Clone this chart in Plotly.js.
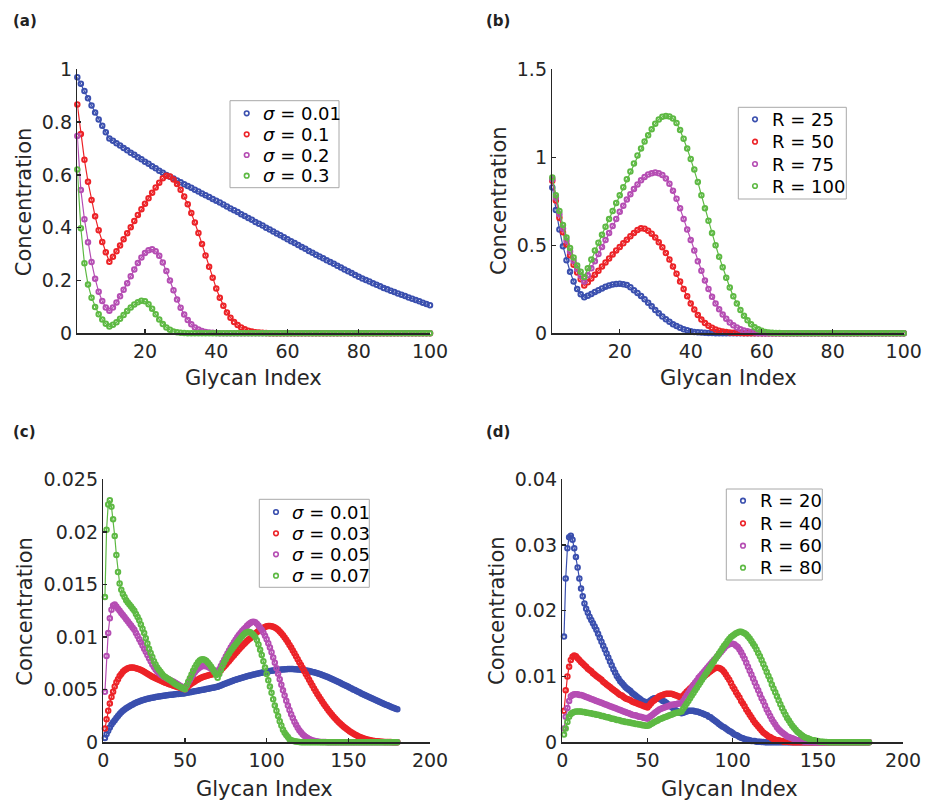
<!DOCTYPE html>
<html><head><meta charset="utf-8">
<script src="https://cdn.plot.ly/plotly-3.0.1.min.js"></script>
<style>html,body{margin:0;padding:0;background:#fff}#chart{width:926px;height:802px}</style>
</head><body><div id="chart"></div>
<script>
// ---------- Panel (a): sigma sweep, glycan index 1..100 ----------
const aLabels = ['σ = 0.01', 'σ = 0.1', 'σ = 0.2', 'σ = 0.3'];
const aSigma001 = [
0.970,0.945,0.918,0.890,0.863,0.836,0.810,0.786,0.762,0.738,
0.729,0.720,0.711,0.702,0.693,0.684,0.676,0.667,0.659,0.650,
0.642,0.633,0.625,0.616,0.608,0.600,0.593,0.586,0.579,0.572,
0.565,0.558,0.551,0.544,0.537,0.530,0.523,0.516,0.509,0.502,
0.495,0.488,0.480,0.473,0.466,0.459,0.451,0.444,0.437,0.430,
0.422,0.415,0.408,0.400,0.393,0.386,0.378,0.371,0.364,0.356,
0.349,0.342,0.334,0.327,0.320,0.312,0.305,0.298,0.291,0.284,
0.277,0.270,0.263,0.256,0.249,0.242,0.235,0.228,0.221,0.214,
0.208,0.202,0.196,0.190,0.184,0.178,0.172,0.167,0.161,0.156,
0.151,0.146,0.141,0.136,0.131,0.126,0.121,0.116,0.111,0.106];
const aSigma01 = [
0.867,0.755,0.657,0.574,0.505,0.443,0.390,0.346,0.307,0.271,
0.290,0.311,0.333,0.356,0.379,0.402,0.425,0.448,0.470,0.491,
0.512,0.532,0.552,0.570,0.587,0.597,0.594,0.583,0.566,0.544,
0.518,0.489,0.456,0.420,0.380,0.338,0.295,0.252,0.210,0.170,
0.135,0.104,0.079,0.059,0.043,0.031,0.022,0.015,0.010,0.007,
0.004,0.003,0.002,0.001,0.0005,0,0,0,0,0,
0,0,0,0,0,0,0,0,0,0,
0,0,0,0,0,0,0,0,0,0,
0,0,0,0,0,0,0,0,0,0,
0,0,0,0,0,0,0,0,0,0];
const aSigma02 = [
0.747,0.543,0.432,0.345,0.270,0.207,0.157,0.122,0.098,0.085,
0.098,0.117,0.140,0.165,0.190,0.216,0.242,0.266,0.287,0.304,
0.315,0.318,0.311,0.294,0.268,0.236,0.200,0.163,0.128,0.097,
0.071,0.050,0.034,0.022,0.014,0.009,0.005,0.003,0.002,0.001,
0.0005,0,0,0,0,0,0,0,0,0,
0,0,0,0,0,0,0,0,0,0,
0,0,0,0,0,0,0,0,0,0,
0,0,0,0,0,0,0,0,0,0,
0,0,0,0,0,0,0,0,0,0,
0,0,0,0,0,0,0,0,0,0];
const aSigma03 = [
0.620,0.398,0.265,0.185,0.135,0.100,0.072,0.052,0.036,0.026,
0.032,0.042,0.055,0.069,0.084,0.098,0.109,0.118,0.123,0.121,
0.110,0.093,0.072,0.052,0.035,0.022,0.013,0.007,0.004,0.002,
0.001,0,0,0,0,0,0,0,0,0,
0,0,0,0,0,0,0,0,0,0,
0,0,0,0,0,0,0,0,0,0,
0,0,0,0,0,0,0,0,0,0,
0,0,0,0,0,0,0,0,0,0,
0,0,0,0,0,0,0,0,0,0,
0,0,0,0,0,0,0,0,0,0];

// ---------- Panel (b): R sweep, glycan index 1..100 ----------
const bLabels = ['R = 25', 'R = 50', 'R = 75', 'R = 100'];
const bR25 = [
0.828,0.700,0.590,0.495,0.415,0.350,0.295,0.252,0.222,0.205,
0.213,0.223,0.234,0.245,0.255,0.264,0.271,0.277,0.280,0.281,
0.279,0.274,0.261,0.245,0.229,0.212,0.194,0.174,0.153,0.133,
0.114,0.096,0.080,0.065,0.052,0.041,0.031,0.023,0.017,0.012,
0.008,0.006,0.004,0.003,0.002,0.001,0.0005,0,0,0,
0,0,0,0,0,0,0,0,0,0,
0,0,0,0,0,0,0,0,0,0,
0,0,0,0,0,0,0,0,0,0,
0,0,0,0,0,0,0,0,0,0,
0,0,0,0,0,0,0,0,0,0];
const bR50 = [
0.867,0.755,0.657,0.574,0.505,0.443,0.390,0.346,0.307,0.271,
0.290,0.311,0.333,0.356,0.379,0.402,0.425,0.448,0.470,0.491,
0.512,0.532,0.552,0.570,0.587,0.597,0.594,0.583,0.566,0.544,
0.518,0.489,0.456,0.420,0.380,0.338,0.295,0.252,0.210,0.170,
0.135,0.104,0.079,0.059,0.043,0.031,0.022,0.015,0.010,0.007,
0.004,0.003,0.002,0.001,0.0005,0,0,0,0,0,
0,0,0,0,0,0,0,0,0,0,
0,0,0,0,0,0,0,0,0,0,
0,0,0,0,0,0,0,0,0,0,
0,0,0,0,0,0,0,0,0,0];
const bR75 = [
0.875,0.770,0.677,0.596,0.526,0.465,0.411,0.365,0.327,0.295,
0.330,0.370,0.410,0.450,0.490,0.530,0.570,0.610,0.650,0.690,
0.725,0.760,0.790,0.820,0.845,0.870,0.888,0.902,0.910,0.913,
0.910,0.900,0.880,0.850,0.810,0.765,0.710,0.650,0.590,0.530,
0.470,0.410,0.355,0.300,0.252,0.208,0.170,0.136,0.107,0.082,
0.062,0.046,0.033,0.023,0.016,0.011,0.007,0.004,0.002,0.001,
0,0,0,0,0,0,0,0,0,0,
0,0,0,0,0,0,0,0,0,0,
0,0,0,0,0,0,0,0,0,0,
0,0,0,0,0,0,0,0,0,0];
const bR100 = [
0.885,0.785,0.695,0.615,0.545,0.485,0.430,0.385,0.350,0.320,
0.370,0.420,0.470,0.515,0.560,0.605,0.650,0.695,0.740,0.785,
0.830,0.875,0.920,0.965,1.010,1.050,1.090,1.125,1.160,1.190,
1.215,1.230,1.235,1.232,1.220,1.195,1.155,1.105,1.050,0.990,
0.930,0.860,0.785,0.710,0.640,0.570,0.500,0.435,0.375,0.315,
0.260,0.210,0.170,0.132,0.100,0.074,0.052,0.035,0.023,0.014,
0.008,0.005,0.003,0.002,0.001,0,0,0,0,0,
0,0,0,0,0,0,0,0,0,0,
0,0,0,0,0,0,0,0,0,0,
0,0,0,0,0,0,0,0,0,0];

// ---------- Panel (c): sigma sweep, glycan index 1..180 ----------
const cLabels = ['σ = 0.01', 'σ = 0.03', 'σ = 0.05', 'σ = 0.07'];
const cSigma001 = [
0.0004,0.0008,0.0011,0.0014,0.0017,0.0019,0.0021,0.0023,0.0025,0.0027,
0.00285,0.0030,0.00312,0.00323,0.00333,0.00343,0.00352,0.0036,0.00368,0.00375,
0.00382,0.00388,0.00394,0.00399,0.00404,0.00409,0.00413,0.00417,0.00421,0.00424,
0.00427,0.0043,0.00433,0.00436,0.00438,0.0044,0.00443,0.00445,0.00447,0.00449,
0.00451,0.00453,0.00455,0.00457,0.00458,0.0046,0.00462,0.00463,0.00465,0.00466,
0.0047,0.00473,0.00476,0.00479,0.00482,0.00485,0.00488,0.00491,0.00494,0.00497,
0.005,0.00503,0.00506,0.00509,0.00512,0.00515,0.00518,0.00521,0.00525,0.00529,
0.00535,0.00541,0.00547,0.00553,0.00559,0.00565,0.00571,0.00577,0.00583,0.00589,
0.00594,0.00599,0.00604,0.00609,0.00614,0.00619,0.00623,0.00628,0.00632,0.00636,
0.0064,0.00644,0.00648,0.00652,0.00655,0.00659,0.00662,0.00665,0.00668,0.00671,
0.00674,0.00677,0.00679,0.00682,0.00684,0.00686,0.00688,0.0069,0.00692,0.00693,
0.00694,0.00695,0.00696,0.00696,0.00696,0.00696,0.00695,0.00694,0.00693,0.00692,
0.0069,0.00688,0.00686,0.00683,0.0068,0.00677,0.00673,0.00669,0.00665,0.00661,
0.00656,0.00651,0.00646,0.0064,0.00634,0.00628,0.00622,0.00615,0.00608,0.00601,
0.00594,0.00587,0.0058,0.00573,0.00565,0.00557,0.0055,0.00542,0.00534,0.00527,
0.00519,0.00511,0.00503,0.00496,0.00488,0.0048,0.00473,0.00465,0.00457,0.0045,
0.00442,0.00435,0.00428,0.0042,0.00413,0.00406,0.00399,0.00392,0.00385,0.00378,
0.00371,0.00364,0.00357,0.00351,0.00344,0.00338,0.00331,0.00325,0.00319,0.00313];
const cSigma003 = [
0.0013,0.0022,0.003,0.0037,0.0043,0.0048,0.0053,0.0057,0.006,0.0063,
0.0065,0.0067,0.00685,0.00695,0.00703,0.00708,0.0071,0.0071,0.00709,0.00705,
0.007,0.00694,0.00687,0.00679,0.0067,0.00661,0.00652,0.00642,0.00633,0.00624,
0.00616,0.00609,0.00602,0.00595,0.00588,0.00581,0.00574,0.00567,0.00561,0.00555,
0.00549,0.00544,0.00538,0.00533,0.00528,0.00523,0.00518,0.00514,0.00509,0.00505,
0.00519,0.00533,0.00546,0.00558,0.00569,0.00579,0.00589,0.00598,0.00606,0.00613,
0.0062,0.00626,0.00631,0.00636,0.0064,0.00644,0.00647,0.0065,0.00653,0.00656,
0.0067,0.00686,0.00703,0.0072,0.00738,0.00756,0.00774,0.00792,0.0081,0.00828,
0.00846,0.00864,0.00881,0.00898,0.00915,0.00931,0.00947,0.00962,0.00976,0.0099,
0.01005,0.0102,0.01034,0.01047,0.01059,0.0107,0.0108,0.01089,0.01096,0.01102,
0.01105,0.01106,0.01104,0.01099,0.01092,0.01082,0.01069,0.01054,0.01037,0.01018,
0.00997,0.00975,0.00951,0.00926,0.009,0.00873,0.00846,0.00818,0.0079,0.00762,
0.00734,0.00706,0.00678,0.0065,0.00622,0.00594,0.00566,0.00539,0.00512,0.00486,
0.0046,0.00435,0.00411,0.00387,0.00364,0.00342,0.00321,0.003,0.0028,0.00261,
0.00243,0.00226,0.0021,0.00194,0.00179,0.00165,0.00151,0.00138,0.00126,0.00114,
0.00103,0.00093,0.00083,0.00074,0.00066,0.00058,0.00051,0.00045,0.00039,0.00034,
0.00029,0.00025,0.00021,0.00018,0.00015,0.00013,0.00011,0.00009,0.00007,0.00006,
0.00005,0.00004,0.00003,0.00003,0.00002,0.00002,0.00001,0.00001,0.00001,0.00001];
const cSigma005 = [
0.0048,0.0082,0.0104,0.0118,0.0126,0.013,0.0131,0.0129,0.0127,0.0125,
0.0123,0.0121,0.0119,0.0117,0.0115,0.0113,0.0111,0.0109,0.0107,0.0104,
0.0101,0.0098,0.0095,0.0092,0.0089,0.0086,0.0083,0.008,0.0077,0.0074,
0.00715,0.00693,0.00674,0.00658,0.00645,0.00634,0.00624,0.00615,0.00607,0.00599,
0.00591,0.00583,0.00575,0.00566,0.00557,0.00548,0.00538,0.00527,0.00516,0.00505,
0.00535,0.00565,0.00593,0.00619,0.00643,0.00665,0.00684,0.007,0.00712,0.0072,
0.00725,0.00726,0.00723,0.00717,0.00709,0.007,0.0069,0.0068,0.00671,0.00665,
0.00695,0.00725,0.00755,0.00785,0.00815,0.00845,0.00873,0.009,0.00926,0.0095,
0.00975,0.00998,0.0102,0.0104,0.01058,0.01075,0.0109,0.01108,0.01122,0.01135,
0.01143,0.01145,0.0114,0.01128,0.0111,0.0109,0.01068,0.01043,0.01014,0.0098,
0.00942,0.009,0.00855,0.00807,0.00757,0.00705,0.00652,0.00599,0.00546,0.00494,
0.00444,0.00396,0.0035,0.00307,0.00267,0.0023,0.00196,0.00166,0.00139,0.00115,
0.00095,0.00077,0.00062,0.0005,0.0004,0.00031,0.00024,0.00018,0.00014,0.0001,
0.00008,0.00006,0.00004,0.00003,0.00002,0.00002,0.00001,0.00001,0.00001,0,
0,0,0,0,0,0,0,0,0,0,
0,0,0,0,0,0,0,0,0,0,
0,0,0,0,0,0,0,0,0,0,
0,0,0,0,0,0,0,0,0,0];
const cSigma007 = [
0.0138,0.0202,0.0226,0.023,0.0224,0.0212,0.0196,0.0178,0.0162,0.0151,
0.0145,0.0141,0.0138,0.0135,0.0133,0.0131,0.0129,0.0127,0.0125,0.0122,
0.0119,0.0116,0.0112,0.0108,0.0104,0.0099,0.0094,0.0089,0.0085,0.0081,
0.0077,0.0074,0.0071,0.0069,0.0067,0.0065,0.0063,0.0062,0.0061,0.006,
0.0059,0.00578,0.00566,0.00555,0.00545,0.00536,0.00527,0.00519,0.00511,0.00505,
0.0054,0.00575,0.0061,0.00645,0.0068,0.0071,0.00738,0.0076,0.00777,0.00787,
0.0079,0.00785,0.00775,0.00759,0.0074,0.00718,0.00694,0.00668,0.00641,0.00613,
0.0065,0.0069,0.0073,0.0076,0.0079,0.0082,0.00845,0.0087,0.0089,0.0091,
0.0093,0.0095,0.0097,0.0099,0.01008,0.01025,0.01038,0.01047,0.0105,0.01045,
0.01035,0.0102,0.01,0.0097,0.0093,0.0088,0.0083,0.0077,0.0071,0.0065,
0.0059,0.0053,0.0047,0.0041,0.0035,0.003,0.0025,0.002,0.0016,0.0012,
0.0009,0.0007,0.0005,0.0003,0.0002,0.00015,0.0001,0.00007,0.00005,0.00003,
0,0,0,0,0,0,0,0,0,0,
0,0,0,0,0,0,0,0,0,0,
0,0,0,0,0,0,0,0,0,0,
0,0,0,0,0,0,0,0,0,0,
0,0,0,0,0,0,0,0,0,0,
0,0,0,0,0,0,0,0,0,0];

// ---------- Panel (d): R sweep, glycan index 1..180 ----------
const dLabels = ['R = 20', 'R = 40', 'R = 60', 'R = 80'];
const dR20 = [
0.0161,0.0249,0.0295,0.0312,0.0314,0.0308,0.0295,0.0282,0.0266,0.0249,
0.0234,0.0222,0.0211,0.0203,0.0197,0.0191,0.0186,0.0181,0.0176,0.0171,
0.0165,0.0159,0.0153,0.0147,0.0141,0.0135,0.0129,0.0123,0.0117,0.0111,
0.0106,0.0101,0.0097,0.0093,0.009,0.0087,0.0084,0.0082,0.008,0.0078,
0.0075,0.0073,0.0071,0.0069,0.0067,0.0065,0.0063,0.0062,0.0061,0.006,
0.0062,0.0064,0.0066,0.0067,0.0067,0.0067,0.0066,0.0065,0.0063,0.0062,
0.006,0.0058,0.0056,0.0054,0.0052,0.005,0.0048,0.0047,0.0045,0.0044,
0.0045,0.0046,0.0047,0.0048,0.0048,0.0048,0.0048,0.0047,0.0047,0.0046,
0.0045,0.0044,0.0043,0.0042,0.0041,0.0039,0.0038,0.0036,0.0034,0.0032,
0.003,0.0028,0.0026,0.0024,0.0023,0.0021,0.0019,0.0017,0.0016,0.0014,
0.0012,0.0011,0.001,0.0008,0.0007,0.0006,0.0005,0.0004,0.0004,0.0003,
0.0002,0.0002,0.0002,0.0001,0.0001,0.0001,0.00005,0.00003,0.00002,0.00001,
0,0,0,0,0,0,0,0,0,0,
0,0,0,0,0,0,0,0,0,0,
0,0,0,0,0,0,0,0,0,0,
0,0,0,0,0,0,0,0,0,0,
0,0,0,0,0,0,0,0,0,0,
0,0,0,0,0,0,0,0,0,0];
const dR40 = [
0.0048,0.0079,0.01,0.0115,0.0125,0.013,0.0132,0.0131,0.0128,0.0125,
0.0122,0.012,0.0117,0.0115,0.0112,0.011,0.0108,0.0105,0.0103,0.0101,
0.0099,0.0097,0.0095,0.0092,0.009,0.0088,0.0086,0.0084,0.0082,0.008,
0.0078,0.0076,0.0074,0.0072,0.0071,0.0069,0.0067,0.0066,0.0065,0.0064,
0.0062,0.0061,0.006,0.0059,0.0058,0.0057,0.0056,0.0055,0.0054,0.0053,
0.0056,0.0059,0.0062,0.0064,0.0066,0.0068,0.007,0.0071,0.0072,0.0073,
0.0074,0.0074,0.0074,0.0074,0.0073,0.0072,0.0071,0.007,0.0069,0.0068,
0.0071,0.0074,0.0077,0.0079,0.0082,0.0084,0.0087,0.0089,0.0091,0.0094,
0.0096,0.0098,0.01,0.0102,0.0104,0.0106,0.0108,0.011,0.0112,0.0113,
0.01135,0.0113,0.0112,0.011,0.0107,0.0103,0.0099,0.0095,0.009,0.0085,
0.0081,0.0076,0.0072,0.0068,0.0063,0.0059,0.0055,0.005,0.0046,0.0042,
0.0038,0.0034,0.003,0.0027,0.0024,0.0021,0.0018,0.0015,0.0013,0.0011,
0.0009,0.0008,0.0006,0.0005,0.0004,0.0003,0.0003,0.0002,0.0002,0.0001,
0.0001,0.0001,0.00005,0.00003,0.00002,0.00001,0,0,0,0,
0,0,0,0,0,0,0,0,0,0,
0,0,0,0,0,0,0,0,0,0,
0,0,0,0,0,0,0,0,0,0,
0,0,0,0,0,0,0,0,0,0];
const dR60 = [
0.0021,0.0039,0.0052,0.0063,0.007,0.0072,0.0073,0.0073,0.0073,0.0072,
0.0072,0.0071,0.007,0.0069,0.0068,0.0067,0.0066,0.0065,0.0064,0.0063,
0.0062,0.0061,0.006,0.0059,0.0058,0.0057,0.0056,0.0055,0.0054,0.0053,
0.0052,0.0051,0.005,0.0049,0.0048,0.0047,0.0046,0.0045,0.0044,0.0043,
0.0042,0.0041,0.0041,0.004,0.0039,0.0039,0.0038,0.0037,0.0037,0.0036,
0.0038,0.004,0.0042,0.0044,0.0046,0.0048,0.005,0.0051,0.0052,0.0053,
0.0054,0.0055,0.0056,0.0057,0.0057,0.0058,0.0058,0.0059,0.0059,0.0059,
0.0063,0.0067,0.0071,0.0075,0.0079,0.0083,0.0087,0.0091,0.0094,0.0098,
0.0101,0.0104,0.0107,0.011,0.0113,0.0116,0.0119,0.0122,0.0125,0.0128,
0.0131,0.0134,0.0137,0.014,0.0143,0.0146,0.0148,0.0149,0.015,0.015,
0.0149,0.0147,0.0145,0.0141,0.0137,0.0132,0.0127,0.0121,0.0115,0.0109,
0.0103,0.0097,0.0091,0.0085,0.0079,0.0073,0.0067,0.0062,0.0056,0.005,
0.0045,0.004,0.0035,0.0031,0.0027,0.0023,0.002,0.0017,0.0015,0.0013,
0.0011,0.0009,0.0008,0.0007,0.0006,0.0005,0.0004,0.0003,0.0003,0.0002,
0.0002,0.0001,0.0001,0.0001,0.0001,0.00005,0.00003,0.00002,0.00001,0,
0,0,0,0,0,0,0,0,0,0,
0,0,0,0,0,0,0,0,0,0,
0,0,0,0,0,0,0,0,0,0];
const dR80 = [
0.0012,0.0021,0.0031,0.0039,0.0043,0.0045,0.0046,0.0047,0.0047,0.0047,
0.0047,0.0046,0.0046,0.0045,0.0045,0.0044,0.0044,0.0043,0.0043,0.0042,
0.0042,0.0041,0.004,0.004,0.0039,0.0038,0.0038,0.0037,0.0036,0.0036,
0.0035,0.0034,0.0034,0.0033,0.0032,0.0032,0.0031,0.0031,0.003,0.003,
0.0029,0.0029,0.0028,0.0028,0.0027,0.0027,0.0026,0.0026,0.0025,0.0025,
0.0026,0.0028,0.0029,0.0031,0.0032,0.0033,0.0035,0.0036,0.0037,0.0038,
0.0039,0.004,0.0041,0.0042,0.0043,0.0044,0.0045,0.0045,0.0046,0.0047,
0.0051,0.0055,0.0059,0.0063,0.0067,0.0071,0.0075,0.0079,0.0083,0.0087,
0.0091,0.0095,0.0099,0.0103,0.0107,0.0111,0.0115,0.0119,0.0123,0.0127,
0.0131,0.0135,0.0139,0.0143,0.0147,0.015,0.0154,0.0157,0.016,0.0162,
0.0164,0.0166,0.0167,0.0168,0.0168,0.0167,0.0166,0.0164,0.0161,0.0158,
0.0154,0.015,0.0146,0.0141,0.0136,0.0131,0.0125,0.0119,0.0113,0.0107,
0.0101,0.0095,0.0088,0.0082,0.0076,0.007,0.0064,0.0058,0.0052,0.0047,
0.0042,0.0037,0.0033,0.0029,0.0025,0.0022,0.0019,0.0016,0.0014,0.0012,
0.001,0.0008,0.0007,0.0006,0.0005,0.0004,0.0003,0.0003,0.0002,0.0002,
0.0001,0.0001,0.0001,0.00005,0.00003,0.00002,0.00001,0,0,0,
0,0,0,0,0,0,0,0,0,0,
0,0,0,0,0,0,0,0,0,0];

const idx100 = Array.from({length: 100}, (_, i) => i + 1);
const idx180 = Array.from({length: 180}, (_, i) => i + 1);

// ---------- styling ----------
const COLORS = ['#3a4fae', '#ec2227', '#b54db3', '#5db943'];
const FONT = 'DejaVu Sans';
const AXC = '#262626';
const W = 926, H = 802;
const PX = x => x / W;
const PY = y => 1 - y / H;

function series(x, y, color, xa, ya) {
  return {
    x: x, y: y, type: 'scatter', mode: 'lines+markers', xaxis: xa, yaxis: ya,
    line: {color: color, width: 1.2},
    marker: {symbol: 'circle-open', size: 4.5, color: color, line: {color: color, width: 2}},
    cliponaxis: false, showlegend: false, hoverinfo: 'skip'
  };
}

const data = [];
[aSigma001, aSigma01, aSigma02, aSigma03].forEach((s, k) => data.push(series(idx100, s, COLORS[k], 'x', 'y')));
[bR25, bR50, bR75, bR100].forEach((s, k) => data.push(series(idx100, s, COLORS[k], 'x2', 'y2')));
[cSigma001, cSigma003, cSigma005, cSigma007].forEach((s, k) => data.push(series(idx180, s, COLORS[k], 'x3', 'y3')));
[dR20, dR40, dR60, dR80].forEach((s, k) => data.push(series(idx180, s, COLORS[k], 'x4', 'y4')));

function axis(p0, p1, isX, range, dtick, anchor) {
  const domain = isX ? [PX(p0), PX(p1)] : [PY(p1), PY(p0)];
  return {
    domain: domain, range: range, anchor: anchor, dtick: dtick, tick0: 0,
    showline: true, linecolor: AXC, linewidth: 1.5, mirror: false,
    ticks: 'inside', ticklen: 4, tickwidth: 1.3, tickcolor: AXC,
    showgrid: false, zeroline: false, automargin: false, fixedrange: true,
    tickfont: {family: FONT, size: 19, color: AXC}
  };
}

const layout = {
  width: W, height: H,
  margin: {l: 0, r: 0, t: 0, b: 0},
  paper_bgcolor: '#ffffff', plot_bgcolor: '#ffffff',
  showlegend: false,
  xaxis:  axis(77.3, 430, true, [1, 100], 20, 'y'),
  yaxis:  axis(69.3, 333.3, false, [0, 1], 0.2, 'x'),
  xaxis2: axis(552.3, 903.7, true, [1, 100], 20, 'y2'),
  yaxis2: axis(69.3, 333.3, false, [0, 1.5], 0.5, 'x2'),
  xaxis3: axis(103.3, 430, true, [0, 200], 50, 'y3'),
  yaxis3: axis(479.3, 742.3, false, [0, 0.025], 0.005, 'x3'),
  xaxis4: axis(562.3, 903, true, [0, 200], 50, 'y4'),
  yaxis4: axis(479.3, 742.3, false, [0, 0.04], 0.01, 'x4'),
  annotations: [],
  shapes: []
};

function ann(text, x, y, opts) {
  return Object.assign({
    text: text, x: PX(x), y: PY(y), xref: 'paper', yref: 'paper',
    showarrow: false, xanchor: 'center', yanchor: 'middle',
    font: {family: FONT, size: 21, color: AXC}
  }, opts || {});
}

// panel letters
[['(a)', 11, 21], ['(b)', 484, 21], ['(c)', 11, 432], ['(d)', 484, 432]].forEach(p => {
  layout.annotations.push(ann('<b>' + p[0] + '</b>', p[1], p[2],
    {xanchor: 'left', font: {family: FONT, size: 15, color: '#222222'}}));
});

// axis titles
[[253.5, 378, 24.7, 201.5], [728, 378, 499, 201], [264, 789, 24.7, 611], [729, 789, 497, 611]].forEach(t => {
  layout.annotations.push(ann('Glycan Index', t[0], t[1]));
  layout.annotations.push(ann('Concentration', t[2], t[3], {textangle: -90}));
});

// legends (boxes, markers, labels)
const legends = [
  {labels: aLabels, box: [230, 100.7, 339, 187.7], mx: 246.7, tx: 260.7, rows: [113.3, 134.3, 155, 175.7], italic: true},
  {labels: bLabels, box: [738.3, 107.3, 846.3, 199], mx: 755, tx: 770.3, rows: [119.3, 141.7, 164, 186], italic: false},
  {labels: cLabels, box: [259.3, 499.3, 369.3, 587.3], mx: 276, tx: 290, rows: [512, 533.3, 554.3, 575.7], italic: true},
  {labels: dLabels, box: [726.3, 489, 822.3, 580], mx: 743, tx: 758, rows: [500.7, 523.3, 545.7, 567.7], italic: false}
];
legends.forEach(L => {
  layout.shapes.push({type: 'rect', xref: 'paper', yref: 'paper',
    x0: PX(L.box[0]), x1: PX(L.box[2]), y0: PY(L.box[3]), y1: PY(L.box[1]),
    line: {color: '#a8a8a8', width: 1}, fillcolor: '#ffffff', layer: 'above'});
  L.labels.forEach((lab, k) => {
    layout.shapes.push({type: 'circle', xref: 'paper', yref: 'paper',
      xsizemode: 'pixel', ysizemode: 'pixel', xanchor: PX(L.mx), yanchor: PY(L.rows[k]),
      x0: -2.3, x1: 2.3, y0: -2.3, y1: 2.3,
      line: {color: COLORS[k], width: 1.6}, fillcolor: 'rgba(0,0,0,0)', layer: 'above'});
    const txt = L.italic ? lab.replace('σ', '<i>σ</i>') : lab;
    layout.annotations.push(ann(txt, L.tx, L.rows[k],
      {xanchor: 'left', font: {family: FONT, size: 18, color: '#000000'}}));
  });
});

Plotly.newPlot('chart', data, layout, {displayModeBar: false, staticPlot: true});
</script>
</body></html>
